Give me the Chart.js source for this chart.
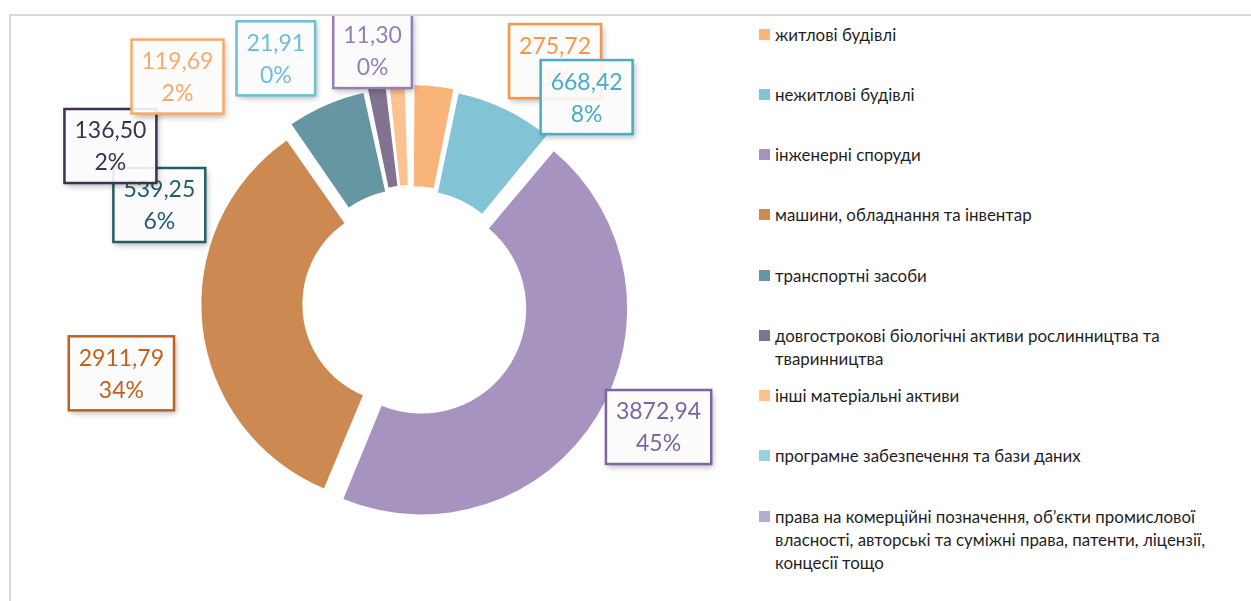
<!DOCTYPE html>
<html lang="uk">
<head>
<meta charset="utf-8">
<script src="https://cdn.jsdelivr.net/npm/chart.js@4/dist/chart.umd.min.js"></script>
<style>
  body { margin: 0; background: #fff; width: 1251px; height: 601px; overflow: hidden; }
  #frame { position: absolute; left: 9px; top: 14px; width: 1300px; height: 700px;
           border: 2px solid #d9d9d9; overflow: hidden; }
  #chart { position: absolute; left: 0; top: 0; }
  #legend { position: absolute; left: 748px; top: 0; width: 470px;
            font-family: Lato, Carlito, Calibri, sans-serif; font-size: 16.9px; color: #1f1f1f; }
  .item { position: absolute; left: 0; display: flex; line-height: 23px; }
  .sw { width: 11px; height: 11px; flex: none; margin: 6px 5px 0 0; }
  .txt { width: 448px; }
</style>
</head>
<body>
<div id="frame">
  <canvas id="chart" width="740" height="585"></canvas>
  <div id="legend"></div>
</div>
<script>
// Дані діаграми
const categories = [
  'житлові будівлі',
  'нежитлові будівлі',
  'інженерні споруди',
  'машини, обладнання та інвентар',
  'транспортні засоби',
  'довгострокові біологічні активи рослинництва та тваринництва',
  'інші матеріальні активи',
  'програмне забезпечення та бази даних',
  'права на комерційні позначення, об’єкти промислової власності, авторські та суміжні права, патенти, ліцензії, концесії тощо'
];
const values = [275.72, 668.42, 3872.94, 2911.79, 539.25, 136.50, 119.69, 21.91, 11.30];
const percents = [3, 8, 45, 34, 6, 2, 2, 0, 0];

// Кольори
const colors = ['#F9B47A', '#82C4D5', '#A693BF', '#CC8A52', '#6796A3', '#81728F', '#FBC28F', '#9BD0DE', '#B8A9D1'];
const labelColors = ['#F79646', '#4BACC6', '#8064A2', '#C0621E', '#235E6B', '#3F3151', '#F9AA68', '#6CC0D4', '#9580B6'];
// розміщення підписів: [кут від верху за год. стрілкою, відстань від центру]
const labelLayout = [[30.6, 281], [40.3, 270], [116.7, 276], [256.4, 299], [291.2, 271],
                     [297.5, 340], [314, 326], [330.9, 280], [351.1, 255]];

const fmt = v => v.toFixed(2).replace('.', ',');

// Підписи даних у рамках
const boxLabels = {
  id: 'boxLabels',
  afterDatasetsDraw(chart) {
    const c = chart.ctx;
    const arcs = chart.getDatasetMeta(0).data;
    c.save();
    c.font = '23px Lato, Carlito, Calibri, sans-serif';
    c.textAlign = 'center';
    c.textBaseline = 'middle';
    arcs.forEach((arc, i) => {
      const [ang, dist] = labelLayout[i];
      const a = ang * Math.PI / 180;
      const x = arc.x + dist * Math.sin(a);
      const y = arc.y - dist * Math.cos(a);
      const l1 = fmt(values[i]), l2 = percents[i] + '%';
      const w = Math.max(c.measureText(l1).width, c.measureText(l2).width) + 20;
      const h = 74;
      const bx = x - w / 2, by = y - h / 2;
      // тінь лише поза рамкою
      c.save();
      c.beginPath();
      c.rect(0, 0, chart.width, chart.height);
      c.rect(bx, by, w, h);
      c.clip('evenodd');
      c.shadowColor = 'rgba(0,0,0,0.3)';
      c.shadowBlur = 6;
      c.shadowOffsetX = 2 + 2000;
      c.shadowOffsetY = 3;
      c.fillStyle = '#000';
      c.fillRect(bx - 2000, by, w, h);
      c.restore();
      c.fillStyle = 'rgba(252,252,252,0.9)';
      c.fillRect(bx, by, w, h);
      c.lineWidth = 2.5;
      c.strokeStyle = labelColors[i];
      c.strokeRect(bx, by, w, h);
      c.fillStyle = labelColors[i];
      c.fillText(l1, x, y - 15);
      c.fillText(l2, x, y + 17);
    });
    c.restore();
  }
};

new Chart(document.getElementById('chart'), {
  type: 'doughnut',
  data: {
    labels: categories,
    datasets: [{
      data: values,
      backgroundColor: colors,
      borderWidth: 0,
      offset: 44
    }]
  },
  options: {
    responsive: false,
    animation: false,
    events: [],
    radius: 198,
    cutout: '49%',
    layout: { padding: { left: 62, right: 0, top: 0, bottom: 11 } },
    plugins: { legend: { display: false }, tooltip: { enabled: false } }
  },
  plugins: [boxLabels]
});

// Легенда
const legend = document.getElementById('legend');
categories.forEach((name, i) => {
  const row = document.createElement('div');
  row.className = 'item';
  row.style.top = (6.5 + i * 60.25) + 'px';
  row.innerHTML = '<span class="sw" style="background:' + colors[i] + '"></span><span class="txt">' + name + '</span>';
  legend.appendChild(row);
});
</script>
</body>
</html>
